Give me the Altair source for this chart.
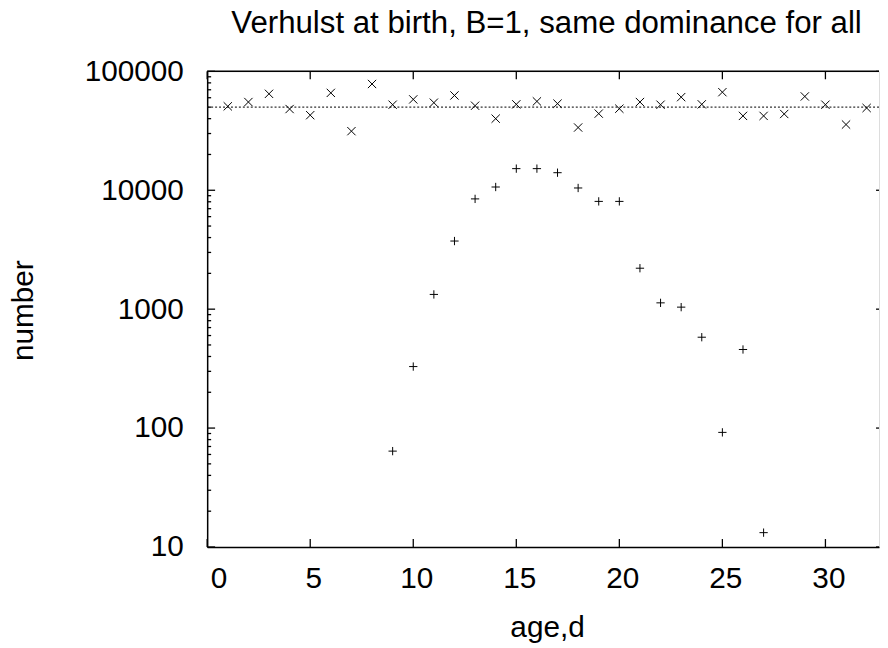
import altair as alt
import pandas as pd

# ---- data ----
ages_x = list(range(1, 33))
counts_x = [50800, 55200, 64700, 48200, 42800, 65900, 31400, 78300, 52400, 58100,
            54500, 62700, 51400, 40000, 52800, 55900, 53500, 33700, 44100, 48500,
            55200, 52400, 60700, 52800, 66800, 42200, 42200, 43800, 61500, 52400,
            35700, 49200]
ages_plus = [9, 10, 11, 12, 13, 14, 15, 16, 17, 18, 19, 20, 21, 22, 23, 24, 25, 26, 27]
counts_plus = [64, 329, 1330, 3740, 8460, 10650, 15200, 15200, 14050, 10450,
               8060, 8060, 2210, 1130, 1040, 581, 92, 458, 13.2]
level = [50000]
x_ticks = [0, 5, 10, 15, 20, 25, 30]
y_major = [10, 100, 1000, 10000, 100000]
y_minor = [k * 10 ** e for e in range(1, 5) for k in range(2, 10)]
titles = ["Verhulst at birth, B=1, same dominance for all"]

FONT = "Liberation Sans"
W, H = 678, 480

df_x = pd.DataFrame({"age": ages_x, "n": counts_x})
df_p = pd.DataFrame({"age": ages_plus, "n": counts_plus})
df_lvl = pd.DataFrame({"n": level})
df_xt = pd.DataFrame({"age": x_ticks})
df_ymaj = pd.DataFrame({"n": y_major})
df_ymin = pd.DataFrame({"n": y_minor})
df_title = pd.DataFrame({"t": titles})

xs = alt.Scale(domain=[0, 32.6], nice=False, zero=False)
ys = alt.Scale(type="log", domain=[10, 100000], nice=False)

x_axis = alt.Axis(values=x_ticks, ticks=False, tickSize=0, grid=False,
                  domain=True, domainColor="black", domainWidth=1.5,
                  labelFont=FONT, labelFontSize=30, labelColor="black",
                  labelPadding=17, labelOffset=3,
                  title="age,d", titleFont=FONT, titleFontSize=30,
                  titleFontWeight="normal", titleColor="black",
                  titleX=343, titleY=90, titleBaseline="alphabetic",
                  titleAlign="center")
y_axis = alt.Axis(values=y_major, format="d", ticks=False, tickSize=0, grid=False,
                  domain=True, domainColor="black", domainWidth=1.5,
                  labelFont=FONT, labelFontSize=30, labelColor="black",
                  labelPadding=24, labelBaseline="middle",
                  title="number", titleFont=FONT, titleFontSize=30,
                  titleFontWeight="normal", titleColor="black",
                  titleX=-176, titleY=241, titleAngle=270,
                  titleBaseline="alphabetic", titleAlign="center")

X_PATH = "M-1,-1L1,1M-1,1L1,-1"
PLUS_PATH = "M-1,0L1,0M0,-1L0,1"

pts_x = alt.Chart(df_x).mark_point(shape=X_PATH, filled=False, color="black",
                                   strokeWidth=1, size=70, opacity=1).encode(
    x=alt.X("age:Q", scale=xs, axis=x_axis),
    y=alt.Y("n:Q", scale=ys, axis=y_axis),
)
pts_p = alt.Chart(df_p).mark_point(shape=PLUS_PATH, filled=False, color="black",
                                   strokeWidth=1, size=70, opacity=1).encode(
    x=alt.X("age:Q", scale=xs),
    y=alt.Y("n:Q", scale=ys),
)
lvl = alt.Chart(df_lvl).mark_rule(color="#333333", strokeWidth=1.2,
                                  strokeDash=[2, 2]).encode(
    y=alt.Y("n:Q", scale=ys),
)
# inward ticks (gnuplot style)
tick_w = 1.3
left_major = alt.Chart(df_ymaj).mark_rule(color="black", strokeWidth=tick_w).encode(
    y=alt.Y("n:Q", scale=ys), x=alt.value(0), x2=alt.value(8))
left_minor = alt.Chart(df_ymin).mark_rule(color="black", strokeWidth=tick_w).encode(
    y=alt.Y("n:Q", scale=ys), x=alt.value(0), x2=alt.value(4))
right_major = alt.Chart(df_ymaj).mark_rule(color="black", strokeWidth=tick_w).encode(
    y=alt.Y("n:Q", scale=ys), x=alt.value(W - 3), x2=alt.value(W))
bottom_major = alt.Chart(df_xt).mark_rule(color="black", strokeWidth=tick_w).encode(
    x=alt.X("age:Q", scale=xs), y=alt.value(H), y2=alt.value(H - 8))
top_major = alt.Chart(df_xt).mark_rule(color="black", strokeWidth=tick_w).encode(
    x=alt.X("age:Q", scale=xs), y=alt.value(0), y2=alt.value(8))
top_border = alt.Chart(df_lvl).mark_rule(color="black", strokeWidth=1.5).encode(
    x=alt.value(0), x2=alt.value(W), y=alt.value(0))
title_txt = alt.Chart(df_title).mark_text(
    font=FONT, fontSize=31.5, color="black", align="center",
    baseline="alphabetic").encode(
    text="t:N", x=alt.value(W / 2 + 3.5), y=alt.value(-39))

chart = alt.layer(
    lvl, left_major, left_minor, right_major, bottom_major, top_major, top_border,
    pts_x, pts_p, title_txt,
).properties(
    width=W, height=H,
    autosize=alt.AutoSizeParams(type="none"),
    padding={"left": 201, "top": 61, "right": 1, "bottom": 97},
).configure_view(stroke=None).configure(background="white")

chart.save("out.html", embed_options={"renderer": "svg", "actions": False})
